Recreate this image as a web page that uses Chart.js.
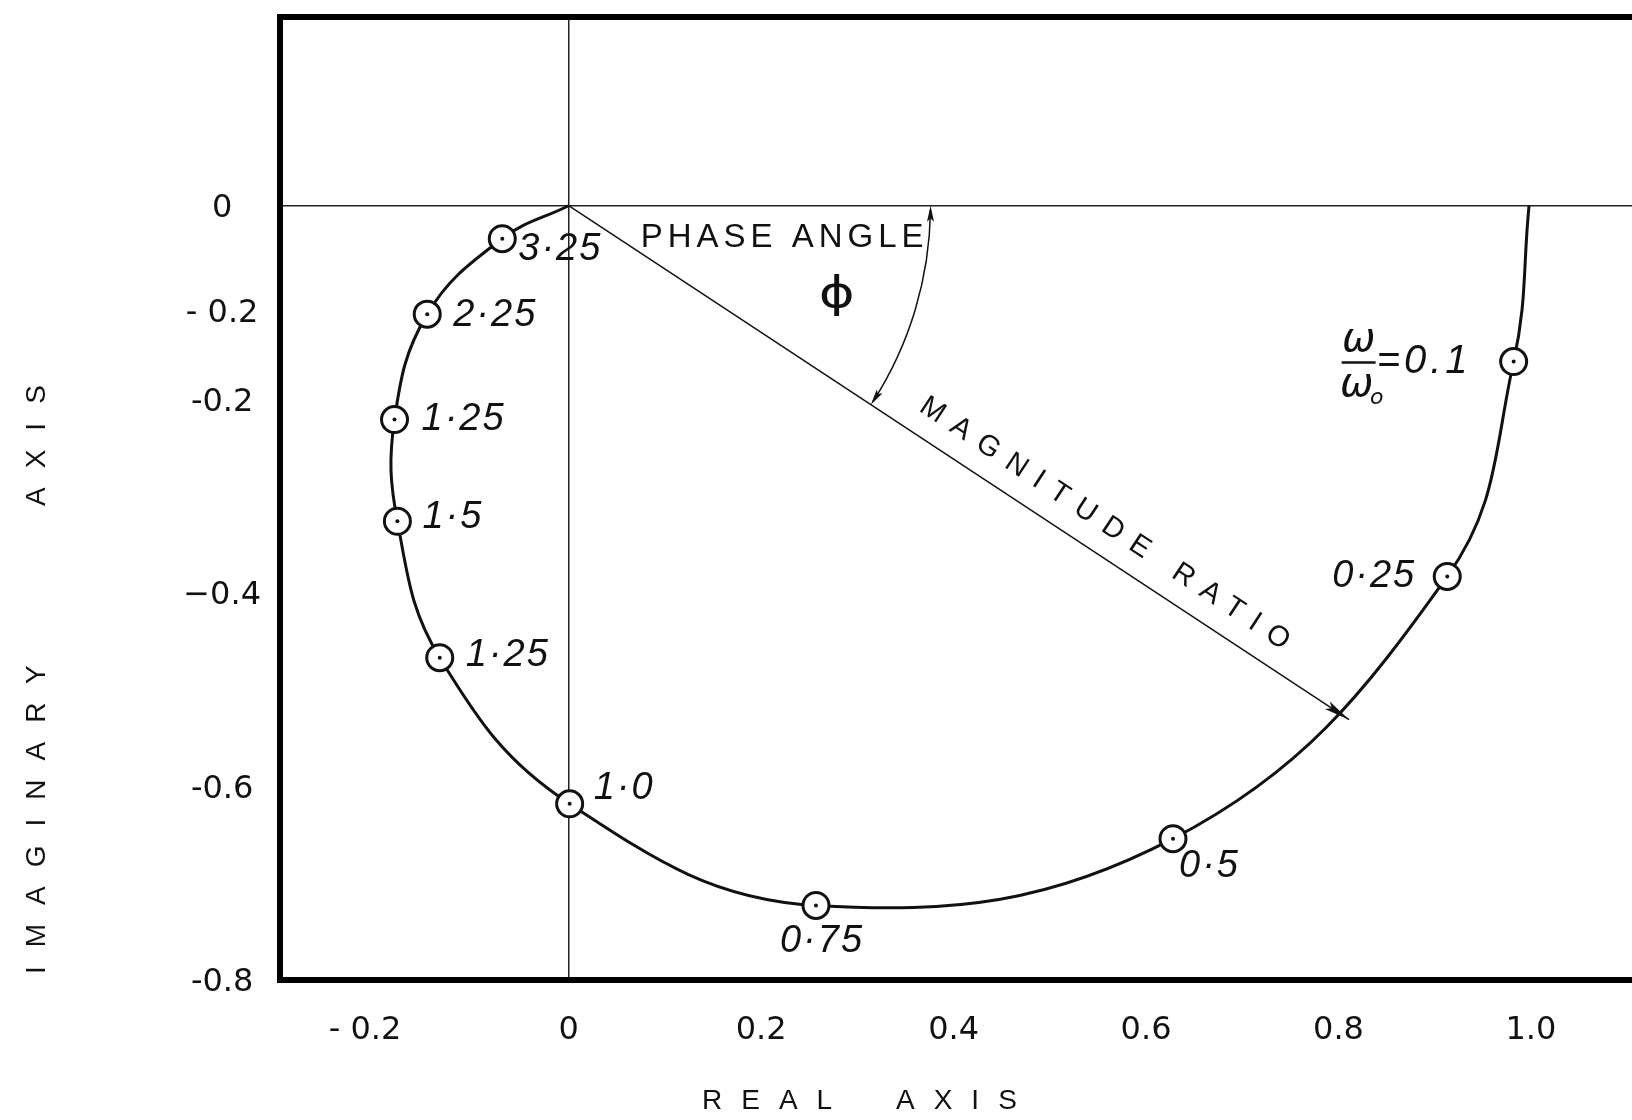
<!DOCTYPE html>
<html>
<head>
<meta charset="utf-8">
<script src="https://cdn.jsdelivr.net/npm/chart.js@4/dist/chart.umd.min.js"></script>
<style>
  html, body { margin: 0; padding: 0; background: #ffffff; overflow: hidden; }
  #wrap { width: 1632px; height: 1120px; position: relative; overflow: hidden; }
  #polar { display: block; }
</style>
</head>
<body>
<div id="wrap"><canvas id="polar" width="1632" height="1120"></canvas></div>
<script>
// Frequency ratio ω/ω0 written beside each marked point of the locus
const freqLabels = ['0.1', '0·25', '0·5', '0·75', '1·0', '1·25', '1·5', '1·25', '2·25', '3·25'];
// Real and imaginary parts at the marked frequencies
const markerReal = [0.982, 0.913, 0.628, 0.257, 0.001, -0.134, -0.178, -0.181, -0.147, -0.069];
const markerImag = [-0.161, -0.383, -0.654, -0.723, -0.618, -0.467, -0.326, -0.221, -0.112, -0.034];
// Locus from ω = 0 (on the real axis) round to the origin
const locusReal = [0.998, 0.982, 0.913, 0.628, 0.257, 0.001, -0.134, -0.178, -0.181, -0.147, -0.069, 0];
const locusImag = [0, -0.161, -0.383, -0.654, -0.723, -0.618, -0.467, -0.326, -0.221, -0.112, -0.034, 0];
// Axis ticks
const xTickValues = [-0.2, 0, 0.2, 0.4, 0.6, 0.8, 1.0];
const xTickLabels = ['- 0.2\u2002\u2009', '0', '0.2', '0.4', '0.6', '0.8', '1.0'];
const yTickValues = [-0.8, -0.6, -0.4, -0.2, -0.108, 0];
const yTickLabels = ['-0.8', '-0.6', '\u22120.4', '-0.2', '- 0.2', '0'];
// Magnitude-ratio vector (origin to the locus) and phase-angle arc radius
const magnitudeTip = { x: 0.811, y: -0.531 };
const phaseArcRadius = 0.376;

const FONT = '"Liberation Sans", Arial, sans-serif';
const TICK_FONT = '"DejaVu Sans", "Liberation Sans", sans-serif';
const INK = '#111111';

function arrowHead(ctx, x, y, ang, len, half) {
  ctx.save();
  ctx.translate(x, y);
  ctx.rotate(ang);
  ctx.beginPath();
  ctx.moveTo(0, 0);
  ctx.lineTo(-len, -half);
  ctx.lineTo(-len * 0.8, 0);
  ctx.lineTo(-len, half);
  ctx.closePath();
  ctx.fill();
  ctx.restore();
}

// Offsets of each frequency label from its marker (px) and its alignment
const labelPlacement = [
  null,
  { dx: -31, dy: 0, align: 'right' },
  { dx: 6, dy: 28, align: 'left' },
  { dx: 6, dy: 36, align: 'center' },
  { dx: 24, dy: -15, align: 'left' },
  { dx: 26, dy: -2, align: 'left' },
  { dx: 25, dy: -4, align: 'left' },
  { dx: 27, dy: 0, align: 'left' },
  { dx: 26, dy: 1, align: 'left' },
  { dx: 16, dy: 11, align: 'left' }
];

const annotations = {
  id: 'annotations',
  beforeDatasetsDraw(chart) {
    const { ctx, chartArea: a, scales: { x, y } } = chart;
    ctx.save();
    // heavy top edge of the frame
    ctx.strokeStyle = '#000';
    ctx.lineWidth = 6;
    ctx.beginPath();
    ctx.moveTo(a.left - 3, a.top);
    ctx.lineTo(a.right, a.top);
    ctx.stroke();

    const ox = x.getPixelForValue(0), oy = y.getPixelForValue(0);
    const tx = x.getPixelForValue(magnitudeTip.x), ty = y.getPixelForValue(magnitudeTip.y);
    const ang = Math.atan2(ty - oy, tx - ox);
    ctx.strokeStyle = INK;
    ctx.fillStyle = INK;
    ctx.lineWidth = 1.5;
    // magnitude ratio vector
    ctx.beginPath();
    ctx.moveTo(ox, oy);
    ctx.lineTo(tx, ty);
    ctx.stroke();
    arrowHead(ctx, tx, ty, ang, 26, 4.5);

    // phase angle arc with arrowheads at both ends
    const r = x.getPixelForValue(phaseArcRadius) - ox;
    ctx.beginPath();
    ctx.arc(ox, oy, r, 0.012, ang - 0.01);
    ctx.stroke();
    arrowHead(ctx, ox + r, oy, -Math.PI / 2, 16, 3.5);
    const ex = ox + r * Math.cos(ang), ey = oy + r * Math.sin(ang);
    arrowHead(ctx, ex, ey, ang + Math.PI / 2, 16, 3.5);

    // texts of the construction
    ctx.textBaseline = 'middle';
    ctx.font = '33px ' + FONT;
    ctx.letterSpacing = '5px';
    ctx.textAlign = 'left';
    ctx.fillText('PHASE ANGLE', ox + 72, oy + 32);
    ctx.letterSpacing = '0px';
    ctx.save();
    ctx.translate(ox + 268, oy + 90);
    ctx.scale(1.3, 1);
    ctx.font = '42px "DejaVu Sans", sans-serif';
    ctx.textAlign = 'center';
    ctx.fillText('\u03D5', 0, 0);
    ctx.restore();

    ctx.save();
    ctx.translate(ox + 536, oy + 318);
    ctx.rotate(ang);
    ctx.font = '29px ' + FONT;
    ctx.letterSpacing = '12px';
    ctx.textAlign = 'center';
    ctx.fillText('MAGNITUDE RATIO', 6, 0);
    ctx.restore();
    ctx.restore();
  },
  afterDatasetsDraw(chart) {
    const { ctx } = chart;
    const pts = chart.getDatasetMeta(1).data;
    ctx.save();
    ctx.fillStyle = INK;
    ctx.textBaseline = 'middle';
    ctx.font = 'italic 38px ' + FONT;
    ctx.letterSpacing = '2px';
    for (let i = 1; i < freqLabels.length; i++) {
      const p = labelPlacement[i];
      ctx.textAlign = p.align;
      ctx.fillText(freqLabels[i], pts[i].x + p.dx, pts[i].y + p.dy);
    }
    // ω/ω0 = 0.1 beside the first marker
    const m = pts[0];
    const fx = m.x - 155, fy = m.y;
    ctx.letterSpacing = '0px';
    ctx.textAlign = 'center';
    ctx.font = 'italic 40px "DejaVu Sans", sans-serif';
    ctx.fillText('\u03C9', fx, fy - 21);
    ctx.fillText('\u03C9', fx - 2, fy + 24);
    ctx.font = 'italic 22px "DejaVu Sans", sans-serif';
    ctx.fillText('o', fx + 18, fy + 37);
    ctx.strokeStyle = INK;
    ctx.lineWidth = 2.5;
    ctx.beginPath();
    ctx.moveTo(fx - 17, fy + 1);
    ctx.lineTo(fx + 17, fy + 1);
    ctx.stroke();
    ctx.textAlign = 'left';
    ctx.font = 'italic 40px ' + FONT;
    ctx.letterSpacing = '4px';
    ctx.fillText('=' + freqLabels[0], fx + 18, fy);

    // axis titles
    ctx.font = '28px ' + FONT;
    ctx.letterSpacing = '19px';
    ctx.textAlign = 'left';
    ctx.fillText('REAL', 702, 1101);
    ctx.fillText('AXIS', 896, 1101);
    ctx.save();
    ctx.translate(37, 974);
    ctx.rotate(-Math.PI / 2);
    ctx.fillText('IMAGINARY', 0, 0);
    ctx.restore();
    ctx.save();
    ctx.translate(37, 506);
    ctx.rotate(-Math.PI / 2);
    ctx.fillText('AXIS', 0, 0);
    ctx.restore();
    ctx.restore();
  }
};

const locus = locusReal.map((v, i) => ({ x: v, y: locusImag[i] }));
const marks = markerReal.map((v, i) => ({ x: v, y: markerImag[i] }));

// keep the plot frame fixed: no extra room reserved for end tick labels
function noEdgePadding(s) {
  s.paddingTop = 0; s.paddingBottom = 0; s.paddingLeft = 0; s.paddingRight = 0;
}

new Chart(document.getElementById('polar').getContext('2d'), {
  type: 'scatter',
  data: {
    datasets: [
      { data: locus, showLine: true, borderColor: INK, borderWidth: 3, tension: 0.4,
        pointRadius: 0, fill: false, order: 3 },
      { data: marks, showLine: false, pointRadius: 13, pointBorderWidth: 3,
        pointBackgroundColor: '#ffffff', pointBorderColor: INK, order: 2 },
      { data: marks, showLine: false, pointRadius: 2, pointBorderWidth: 0,
        pointBackgroundColor: INK, order: 1 }
    ]
  },
  options: {
    responsive: false,
    maintainAspectRatio: false,
    animation: false,
    events: [],
    layout: { autoPadding: false, padding: { top: 17, left: 0, right: 0, bottom: 0 } },
    plugins: { legend: { display: false }, tooltip: { enabled: false } },
    scales: {
      x: {
        type: 'linear', min: -0.3, max: 1.105,
        afterBuildTicks: s => { s.ticks = xTickValues.map(v => ({ value: v })); },
        afterFit: s => { s.height = 140; noEdgePadding(s); },
        ticks: { callback: (v, i) => xTickLabels[i], font: { family: TICK_FONT, size: 32 }, color: INK,
                 padding: 31, maxRotation: 0, autoSkip: false },
        grid: { drawTicks: false, lineWidth: 1.5,
                color: c => (c.tick && c.tick.value === 0) ? '#222' : 'rgba(0,0,0,0)' },
        border: { display: true, color: '#000', width: 6 }
      },
      y: {
        type: 'linear', min: -0.8, max: 0.195,
        afterBuildTicks: s => { s.ticks = yTickValues.map(v => ({ value: v })); },
        afterFit: s => { s.width = 280; noEdgePadding(s); },
        ticks: { callback: (v, i) => yTickLabels[i], font: { family: TICK_FONT, size: 32 }, color: INK,
                 padding: 19, labelOffset: 3, crossAlign: 'center', autoSkip: false },
        grid: { drawTicks: false, lineWidth: 1.5,
                color: c => (c.tick && c.tick.value === 0) ? '#222' : 'rgba(0,0,0,0)' },
        border: { display: true, color: '#000', width: 6 }
      }
    }
  },
  plugins: [annotations]
});
</script>
</body>
</html>
